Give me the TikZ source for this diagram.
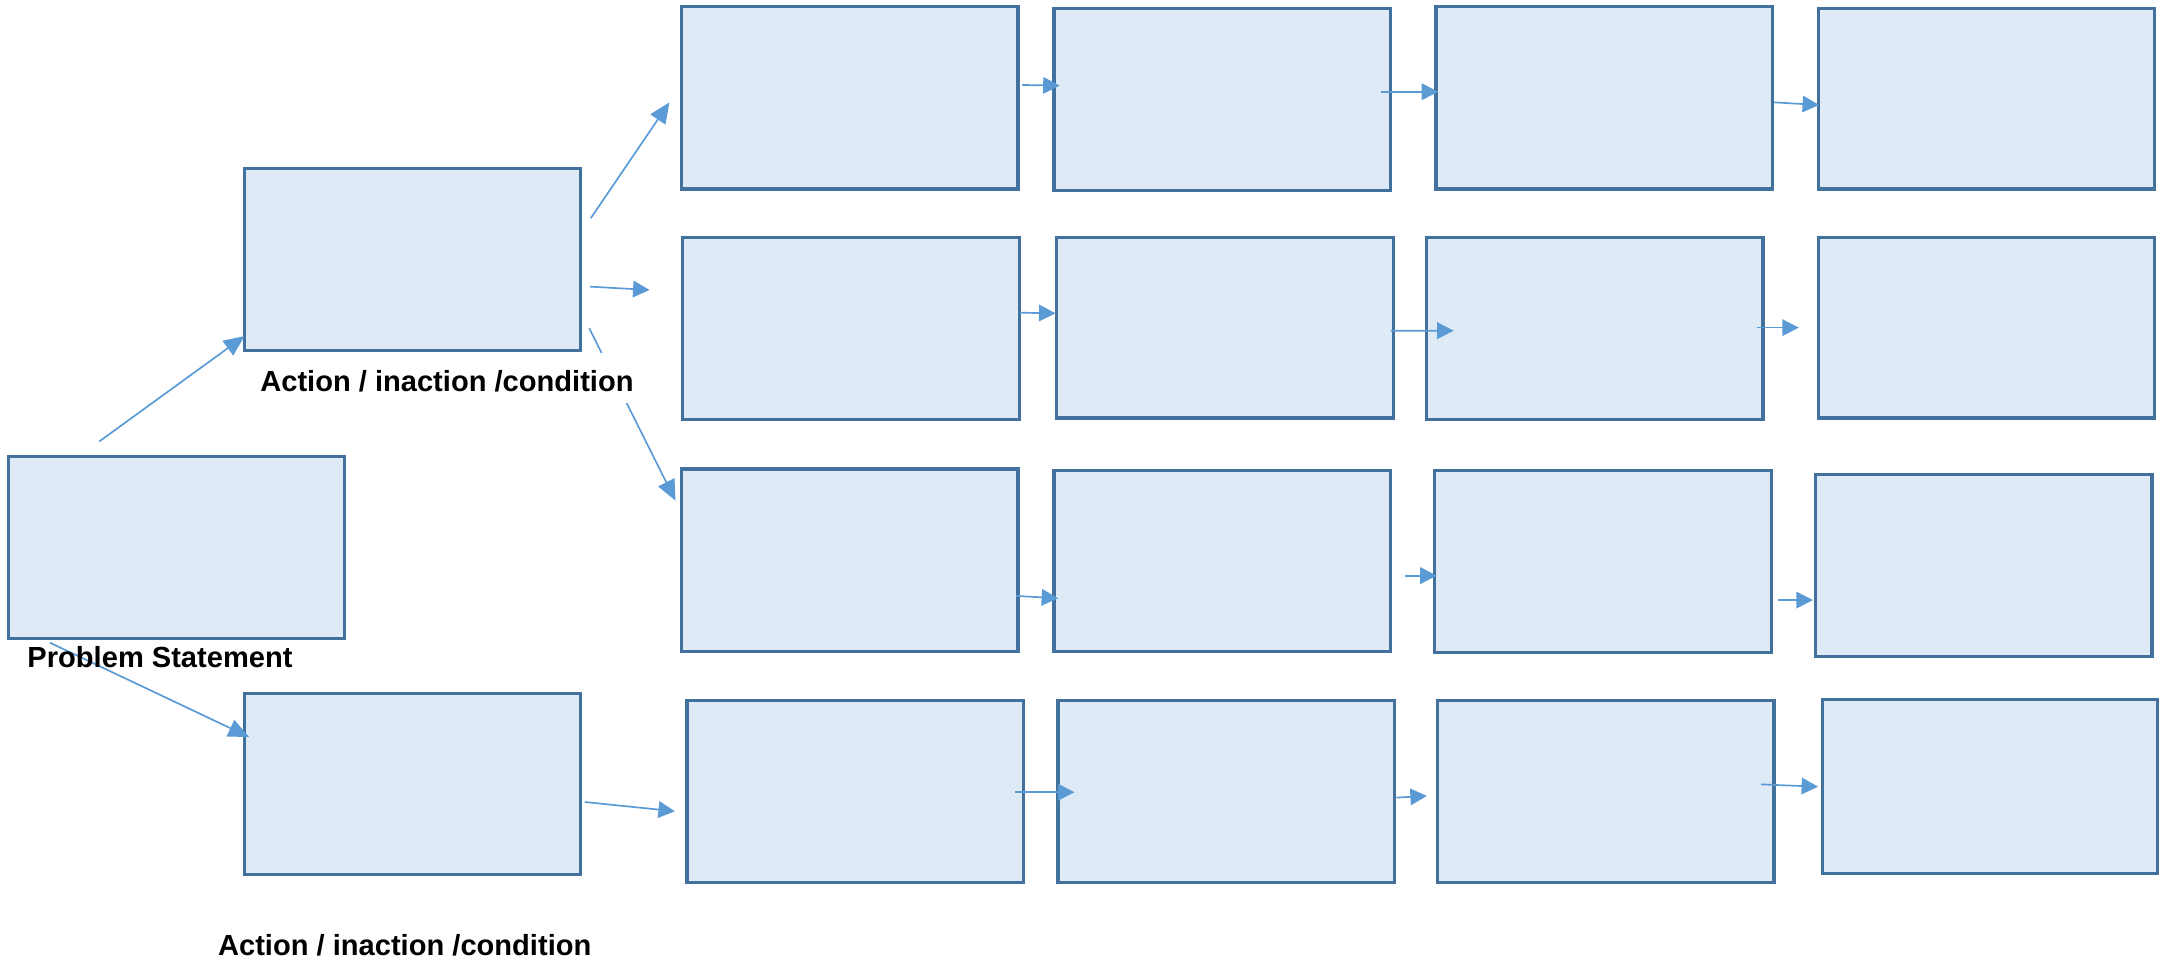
\documentclass[tikz,border=0pt]{standalone}
\usepackage{fontspec}
\setmainfont{Liberation Sans}
\usetikzlibrary{arrows.meta,fit}
\definecolor{boxfill}{HTML}{DEEAF6}
\definecolor{boxline}{HTML}{41719C}
\definecolor{arrowblue}{HTML}{5B9BD5}
\begin{document}
\begin{tikzpicture}[x=0.02cm,y=-0.02cm,
  stepbox/.style={rectangle, draw=boxline, fill=boxfill, line width=1.3pt, inner sep=0pt, outer sep=0pt},
  conn/.style={color=arrowblue, line width=0.7pt, -{Triangle[length=0.24cm,width=0.24cm]}},
  diag/.style={color=arrowblue, line width=0.7pt, -{Triangle[length=0.3cm,width=0.26cm]}},
  lbl/.style={font=\fontsize{12}{14}\selectfont\bfseries, inner sep=0pt, anchor=base}]
\useasboundingbox (0,0) rectangle (1568,699);
% boxes
\node[stepbox, fit={(6,331) (250,463)}] (PS) {};
\node[stepbox, fit={(177,122) (421,254)}] (A1) {};
\node[stepbox, fit={(177,503) (421,634)}] (A2) {};
\node[stepbox, fit={(494,5) (738,137)}] (B11) {};
\node[stepbox, fit={(764,6) (1008,138)}] (B12) {};
\node[stepbox, fit={(1041,5) (1285,137)}] (B13) {};
\node[stepbox, fit={(1318,6) (1562,137)}] (B14) {};
\node[stepbox, fit={(495,172) (739,304)}] (B21) {};
\node[stepbox, fit={(766,172) (1010,303)}] (B22) {};
\node[stepbox, fit={(1034,172) (1278,304)}] (B23) {};
\node[stepbox, fit={(1318,172) (1562,303)}] (B24) {};
\node[stepbox, fit={(494,340) (738,472)}] (B31) {};
\node[stepbox, fit={(764,341) (1008,472)}] (B32) {};
\node[stepbox, fit={(1040,341) (1284,473)}] (B33) {};
\node[stepbox, fit={(1316,344) (1560,476)}] (B34) {};
\node[stepbox, fit={(498,508) (742,640)}] (B41) {};
\node[stepbox, fit={(767,508) (1011,640)}] (B42) {};
\node[stepbox, fit={(1042,508) (1286,640)}] (B43) {};
\node[stepbox, fit={(1321,507) (1564,633)}] (B44) {};
% connectors
\draw[diag] ([shift={(-56,-11)}]PS.north) -- ([shift={(0.3,-10.4)}]A1.south west);
\draw[diag] ([shift={(-91.8,2.9)}]PS.south) -- ([shift={(3.6,-34.2)}]A2.west);
\draw[diag] ([shift={(7.2,-29.7)}]A1.east) -- ([shift={(-8.7,3.2)}]B11.west);
\draw[conn] ([shift={(6.8,19.8)}]A1.east) -- ([shift={(-24.1,-27.8)}]B21.west);
\draw[diag] ([shift={(6.2,50)}]A1.east) -- ([shift={(-4.3,-43)}]B31.west);
\draw[conn] ([shift={(3,12.9)}]A2.east) -- ([shift={(-8.7,14.1)}]B41.west);
\draw[conn] ([shift={(2.9,-9.4)}]B11.east) -- ([shift={(4.2,-9.9)}]B12.west);
\draw[conn] ([shift={(-7,-5.5)}]B12.east) -- ([shift={(1.6,-4.5)}]B13.west);
\draw[conn] ([shift={(1,3.2)}]B13.east) -- ([shift={(0.7,4.6)}]B14.west);
\draw[conn] ([shift={(0.3,-11.3)}]B21.east) -- ([shift={(-0.8,-10.4)}]B22.west);
\draw[conn] ([shift={(-1.8,2.2)}]B22.east) -- ([shift={(19.8,1.7)}]B23.west);
\draw[conn] ([shift={(-4.3,-0.5)}]B23.east) -- ([shift={(-14,0)}]B24.west);
\draw[conn] ([shift={(-1.3,26)}]B31.east) -- ([shift={(3.1,27.2)}]B32.west);
\draw[conn] ([shift={(10.6,10.8)}]B32.east) -- ([shift={(1.5,10.3)}]B33.west);
\draw[conn] ([shift={(5,28)}]B33.east) -- ([shift={(-1.8,25)}]B34.west);
\draw[conn] ([shift={(-6,0.3)}]B41.east) -- ([shift={(11.9,0.3)}]B42.west);
\draw[conn] ([shift={(1.3,4.2)}]B42.east) -- ([shift={(-7.6,3)}]B43.west);
\draw[conn] ([shift={(-9.4,-5.4)}]B43.east) -- ([shift={(-3,0.3)}]B44.west);
% labels
\node[lbl, fill=white, text height=0.56cm, text depth=0.16cm, inner xsep=2pt] (L1) at (324,284) {Action / inaction /condition};
\node[lbl] (L0) at (116,484) {Problem Statement};
\node[lbl] (L2) at (293.4,693) {Action / inaction /condition};
\end{tikzpicture}
\end{document}
